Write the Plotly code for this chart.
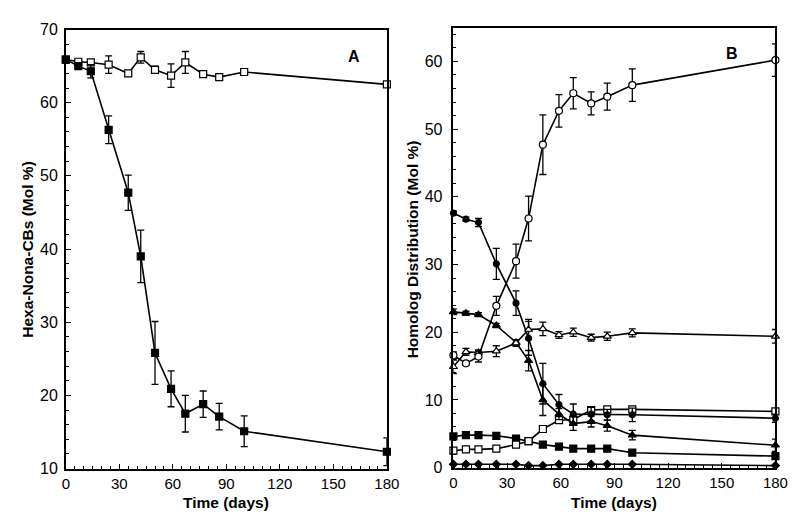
import plotly.graph_objects as go

days = [0, 7, 14, 24, 35, 42, 50, 59, 67, 77, 86, 100, 180]

# Panel A
hexa_control = [65.9, 65.6, 65.5, 65.2, 64.0, 66.2, 64.5, 63.7, 65.5, 63.9, 63.5, 64.2, 62.5]
hexa_control_err = [0.3, 0.3, 0.3, 1.2, 0.2, 0.8, 0.5, 1.6, 1.5, 0.2, 0.2, 0.2, 0.2]
hexa_active = [65.9, 65.0, 64.3, 56.3, 47.7, 39.0, 25.8, 20.9, 17.5, 18.8, 17.1, 15.1, 12.3]
hexa_active_err = [0.4, 0.3, 0.9, 1.9, 2.4, 3.6, 4.3, 2.45, 2.5, 1.8, 1.8, 2.1, 1.9]

# Panel B
open_circ = [16.6, 15.4, 16.4, 23.9, 30.5, 36.8, 47.7, 52.7, 55.3, 53.8, 54.8, 56.5, 60.2]
open_circ_err = [0.5, 0.3, 0.8, 1.4, 2.5, 3.3, 4.4, 2.4, 2.3, 1.7, 2.0, 2.4, 2.4]
fill_circ = [37.6, 36.7, 36.2, 30.1, 24.3, 19.1, 12.4, 9.3, 7.9, 7.9, 7.8, 7.8, 7.3]
fill_circ_err = [0.3, 0.3, 0.6, 2.3, 1.8, 2.5, 3.0, 1.5, 1.5, 1.0, 0.8, 1.0, 0.6]
open_tri = [14.9, 17.1, 17.0, 17.2, 18.4, 20.4, 20.5, 19.6, 20.0, 19.2, 19.4, 19.9, 19.4]
open_tri_err = [1.0, 0.5, 0.4, 0.8, 0.5, 1.5, 1.0, 0.5, 0.6, 0.5, 0.6, 0.6, 1.0]
fill_tri = [23.0, 22.8, 22.6, 21.0, 18.5, 15.8, 10.0, 7.9, 6.5, 6.8, 6.2, 4.8, 3.3]
fill_tri_err = [0.4, 0.3, 0.3, 0.3, 0.4, 1.5, 2.3, 0.8, 1.0, 0.8, 0.8, 0.7, 0.9]
open_sq = [2.5, 2.7, 2.7, 2.8, 3.4, 3.9, 5.7, 7.0, 7.1, 8.5, 8.6, 8.6, 8.3]
fill_sq = [4.6, 4.8, 4.8, 4.7, 4.3, 3.9, 3.4, 3.1, 2.8, 2.8, 2.8, 2.2, 1.7]
fill_dia = [0.5, 0.5, 0.5, 0.5, 0.5, 0.3, 0.3, 0.5, 0.5, 0.5, 0.5, 0.5, 0.3]

FONT = "Arial, Liberation Sans, sans-serif"
fig = go.Figure()


def add(y, err, symbol, filled, xa, ya, size=7):
    kw = {}
    if err is not None:
        kw["error_y"] = dict(type="data", array=err, visible=True, color="black",
                             thickness=1.3, width=3.5)
    fig.add_trace(go.Scatter(
        x=days, y=y, mode="lines+markers", xaxis=xa, yaxis=ya,
        line=dict(color="black", width=1.6),
        marker=dict(symbol=symbol, size=size,
                    color="black" if filled else "white",
                    line=dict(color="black", width=1.2)),
        cliponaxis=False, showlegend=False, **kw))


# Panel A
add(hexa_control, hexa_control_err, "square", False, "x", "y")
add(hexa_active, hexa_active_err, "square", True, "x", "y")

# Panel B
add(fill_dia, None, "diamond", True, "x2", "y2", size=6)
add(fill_sq, None, "square", True, "x2", "y2")
add(open_sq, None, "square", False, "x2", "y2")
add(fill_tri, fill_tri_err, "triangle-up", True, "x2", "y2")
add(fill_circ, fill_circ_err, "circle", True, "x2", "y2", size=6)
add(open_tri, open_tri_err, "triangle-up", False, "x2", "y2")
add(open_circ, open_circ_err, "circle", False, "x2", "y2")

axcommon = dict(showline=True, linecolor="black", linewidth=1.5, mirror=True,
                ticks="inside", ticklen=5, tickwidth=1.2, tickcolor="black",
                showgrid=False, zeroline=False)
tf = dict(family=FONT, size=15, color="black")
xcommon = dict(range=[0, 180], tick0=0, dtick=30, ticklabelstandoff=1, tickfont=tf,
               minor=dict(dtick=5, ticks="inside", ticklen=3, tickcolor="black", tickwidth=1),
               **axcommon)

fig.update_layout(
    width=800, height=516,
    margin=dict(l=0, r=0, t=0, b=0),
    paper_bgcolor="white", plot_bgcolor="white",
    font=dict(family=FONT, color="black"),
    xaxis=dict(domain=[55 / 800, 383 / 800], anchor="y", **xcommon),
    yaxis=dict(domain=[(516 - 468) / 516, (516 - 14) / 516], anchor="x",
               range=[10, 70], tick0=10, dtick=10, ticklabelstandoff=3,
               tickfont=dict(family=FONT, size=16, color="black"),
               minor=dict(dtick=2, ticks="inside", ticklen=3, tickcolor="black", tickwidth=1),
               **axcommon),
    xaxis2=dict(domain=[451 / 800, 780 / 800], anchor="y2", **xcommon),
    yaxis2=dict(domain=[(516 - 467) / 516, (516 - 12) / 516], anchor="x2",
                range=[0, 65], tick0=0, dtick=10, ticklabelstandoff=6,
                tickfont=dict(family=FONT, size=16, color="black"),
                minor=dict(dtick=2, ticks="inside", ticklen=3, tickcolor="black", tickwidth=1),
                **axcommon),
)

annotations = [
    dict(text="<b>Time (days)</b>", x=219 / 800, y=1 - 503 / 516),
    dict(text="<b>Time (days)</b>", x=615 / 800, y=1 - 503 / 516),
    dict(text="<b>Hexa-Nona-CBs (Mol %)</b>", x=15 / 800, y=1 - 241 / 516, textangle=-90),
    dict(text="<b>Homolog Distribution (Mol %)</b>", x=409 / 800, y=1 - 241 / 516, textangle=-90),
]
for a in annotations:
    fig.add_annotation(xref="paper", yref="paper", showarrow=False,
                       xanchor="center", yanchor="middle",
                       font=dict(family=FONT, size=15.5, color="black"), **a)
fig.add_annotation(text="<b>A</b>", x=349 / 800, y=1 - 31 / 516, xref="paper", yref="paper",
                   showarrow=False, font=dict(family=FONT, size=16, color="black"))
fig.add_annotation(text="<b>B</b>", x=744 / 800, y=1 - 28 / 516, xref="paper", yref="paper",
                   showarrow=False, font=dict(family=FONT, size=16, color="black"))

fig.write_html("out.html")
